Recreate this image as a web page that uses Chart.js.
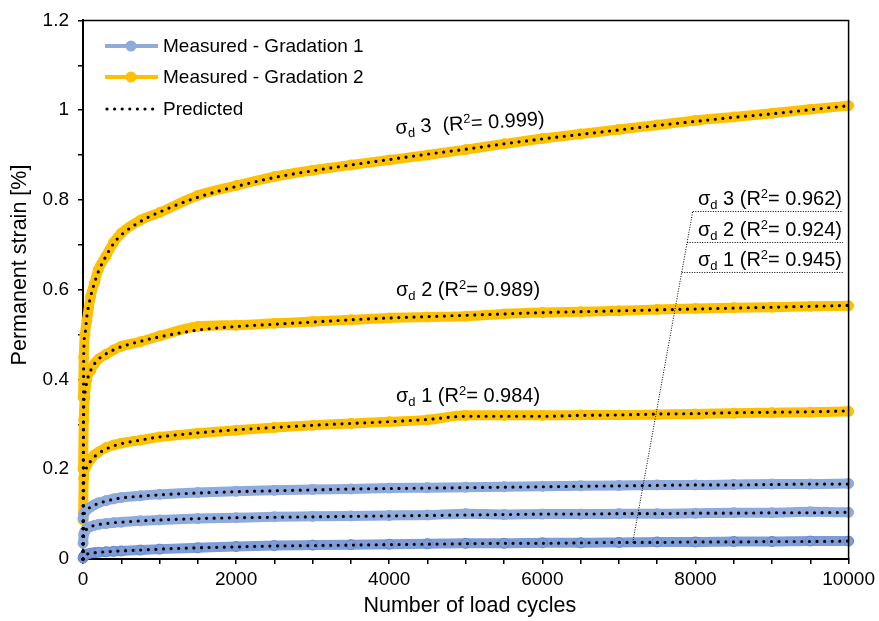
<!DOCTYPE html>
<html>
<head>
<meta charset="utf-8">
<title>Permanent strain</title>
<script src="https://cdn.jsdelivr.net/npm/chart.js@4"></script>
<style>
  html, body { margin: 0; padding: 0; background: #fff; }
  #wrap { width: 879px; height: 621px; }
</style>
</head>
<body>
<div id="wrap"><canvas id="strainChart" width="879" height="621"></canvas></div>
<script>
// Load cycles at which strain was recorded / predicted
const cyclesMeasured = [1, 10, 25, 50, 100, 150, 200, 300, 400, 500, 750, 1000, 1500, 2000, 2500, 3000, 3500, 4000, 4500, 5000, 5500, 6000, 6500, 7000, 7500, 8000, 8500, 9000, 9500, 10000];
const cyclesPredicted = [0, 10, 25, 50, 100, 150, 200, 300, 400, 500, 750, 1000, 1500, 2000, 2500, 3000, 3500, 4000, 4500, 5000, 5500, 6000, 6500, 7000, 7500, 8000, 8500, 9000, 9500, 10000];

// Gradation 2 (measured)
const g2Sd3 = [0.36, 0.45, 0.5, 0.53, 0.585, 0.615, 0.645, 0.675, 0.705, 0.726, 0.755, 0.772, 0.81, 0.832, 0.852, 0.866, 0.878, 0.889, 0.9, 0.912, 0.925, 0.937, 0.947, 0.957, 0.967, 0.977, 0.985, 0.993, 1.002, 1.01];
const g2Sd2 = [0.2, 0.31, 0.36, 0.4, 0.42, 0.435, 0.445, 0.456, 0.466, 0.474, 0.484, 0.497, 0.518, 0.521, 0.525, 0.529, 0.533, 0.537, 0.539, 0.541, 0.546, 0.549, 0.551, 0.553, 0.556, 0.558, 0.56, 0.561, 0.563, 0.564];
const g2Sd1 = [0.087, 0.18, 0.2, 0.21, 0.222, 0.232, 0.238, 0.248, 0.254, 0.258, 0.265, 0.272, 0.28, 0.287, 0.293, 0.298, 0.302, 0.306, 0.31, 0.32, 0.32, 0.32, 0.321, 0.321, 0.322, 0.323, 0.325, 0.326, 0.327, 0.329];

// Gradation 1 (measured)
const g1Sd3 = [0.09, 0.1, 0.105, 0.11, 0.116, 0.121, 0.125, 0.13, 0.134, 0.137, 0.141, 0.144, 0.148, 0.151, 0.153, 0.155, 0.156, 0.158, 0.159, 0.16, 0.161, 0.162, 0.163, 0.164, 0.165, 0.165, 0.166, 0.167, 0.167, 0.168];
const g1Sd2 = [0.035, 0.055, 0.062, 0.068, 0.072, 0.075, 0.077, 0.079, 0.081, 0.082, 0.085, 0.087, 0.09, 0.092, 0.094, 0.095, 0.096, 0.097, 0.098, 0.101, 0.099, 0.1, 0.1, 0.101, 0.101, 0.102, 0.103, 0.103, 0.105, 0.104];
const g1Sd1 = [0.002, 0.006, 0.009, 0.011, 0.013, 0.014, 0.015, 0.016, 0.017, 0.018, 0.02, 0.022, 0.025, 0.028, 0.03, 0.031, 0.032, 0.033, 0.034, 0.035, 0.035, 0.036, 0.036, 0.037, 0.038, 0.038, 0.039, 0.039, 0.04, 0.04];

// Model predictions
const predG2Sd3 = [0, 0.46, 0.5, 0.54, 0.585, 0.615, 0.64, 0.675, 0.703, 0.722, 0.752, 0.773, 0.806, 0.83, 0.85, 0.865, 0.878, 0.89, 0.902, 0.913, 0.925, 0.936, 0.946, 0.956, 0.966, 0.975, 0.984, 0.992, 1.001, 1.01];
const predG2Sd2 = [0, 0.34, 0.37, 0.395, 0.42, 0.435, 0.445, 0.457, 0.466, 0.473, 0.485, 0.495, 0.51, 0.518, 0.523, 0.528, 0.533, 0.537, 0.54, 0.543, 0.546, 0.549, 0.551, 0.553, 0.555, 0.557, 0.559, 0.561, 0.563, 0.565];
const predG2Sd1 = [0, 0.17, 0.19, 0.205, 0.218, 0.228, 0.235, 0.245, 0.252, 0.257, 0.265, 0.272, 0.281, 0.288, 0.293, 0.298, 0.302, 0.306, 0.311, 0.318, 0.318, 0.318, 0.32, 0.321, 0.323, 0.324, 0.326, 0.327, 0.328, 0.33];
const predG1Sd3 = [0, 0.095, 0.103, 0.109, 0.116, 0.12, 0.124, 0.129, 0.133, 0.136, 0.14, 0.143, 0.147, 0.15, 0.152, 0.154, 0.156, 0.157, 0.158, 0.159, 0.16, 0.161, 0.162, 0.163, 0.164, 0.165, 0.165, 0.166, 0.167, 0.167];
const predG1Sd2 = [0, 0.055, 0.062, 0.067, 0.072, 0.075, 0.077, 0.079, 0.081, 0.082, 0.085, 0.087, 0.09, 0.092, 0.093, 0.094, 0.095, 0.096, 0.097, 0.098, 0.099, 0.1, 0.1, 0.101, 0.101, 0.102, 0.102, 0.103, 0.103, 0.104];
const predG1Sd1 = [0, 0.006, 0.009, 0.011, 0.013, 0.014, 0.015, 0.016, 0.017, 0.018, 0.02, 0.022, 0.025, 0.027, 0.029, 0.03, 0.031, 0.032, 0.033, 0.034, 0.035, 0.035, 0.036, 0.037, 0.037, 0.038, 0.038, 0.039, 0.039, 0.04];

// R² labels
const fitLabelsG2 = [
  { level: "3", r2: "0.999", gap: "  " },
  { level: "2", r2: "0.989", gap: " " },
  { level: "1", r2: "0.984", gap: " " }
];
const fitLabelsG1 = [
  { level: "3", r2: "0.962" },
  { level: "2", r2: "0.924" },
  { level: "1", r2: "0.945" }
];

const FONT = '"Liberation Sans", Arial, Helvetica, sans-serif';
const BLUE = "#8FAADC";
const YELLOW = "#FFC000";

function pairs(xs, ys) {
  return xs.map((x, i) => ({ x, y: ys[i] }));
}

function measured(values, color, edge) {
  return {
    data: pairs(cyclesMeasured, values),
    borderColor: color,
    backgroundColor: color,
    borderWidth: 10,
    pointRadius: 5,
    pointBorderWidth: 1,
    pointBorderColor: edge || color,
    pointBackgroundColor: color,
    cubicInterpolationMode: "monotone",
    borderJoinStyle: "round",
    borderCapStyle: "round",
    clip: false,
    order: 2
  };
}

function predicted(values) {
  return {
    data: pairs(cyclesPredicted, values),
    borderColor: "#000",
    borderWidth: 3.2,
    borderDash: [0, 7.6],
    borderCapStyle: "round",
    pointRadius: 0,
    cubicInterpolationMode: "monotone",
    fill: false,
    clip: false,
    order: 1
  };
}

// sigma_d n (R^2= x) with sub/superscripts
function drawFitLabel(ctx, x, y, level, r2, gap, align) {
  const big = "20px " + FONT;
  const small = "13px " + FONT;
  const parts = [
    { t: "σ", f: big, dy: 0 },
    { t: "d", f: small, dy: 6 },
    { t: " " + level + (gap || " ") + "(R", f: big, dy: 0 },
    { t: "2", f: small, dy: -5 },
    { t: "= " + r2 + ")", f: big, dy: 0 }
  ];
  let total = 0;
  parts.forEach(p => { ctx.font = p.f; p.w = ctx.measureText(p.t).width; total += p.w; });
  let cx = align === "right" ? x - total : align === "center" ? x - total / 2 : x;
  ctx.fillStyle = "#000";
  ctx.textBaseline = "middle";
  ctx.textAlign = "left";
  parts.forEach(p => {
    ctx.font = p.f;
    ctx.fillText(p.t, cx, y + p.dy);
    cx += p.w;
  });
}

const decorations = {
  id: "decorations",
  afterDraw(chart) {
    const { ctx, chartArea: a, scales } = chart;
    const xs = scales.x, ys = scales.y;
    ctx.save();

    // plot frame (top and right)
    ctx.strokeStyle = "#000";
    ctx.lineWidth = 1.5;
    ctx.beginPath();
    ctx.moveTo(a.left, a.top);
    ctx.lineTo(a.right, a.top);
    ctx.lineTo(a.right, a.bottom);
    ctx.stroke();

    // axis titles
    ctx.fillStyle = "#000";
    ctx.font = "21.5px " + FONT;
    ctx.textAlign = "center";
    ctx.textBaseline = "middle";
    ctx.fillText("Number of load cycles", (a.left + a.right) / 2 + 4, 606);
    ctx.save();
    ctx.translate(20, 265);
    ctx.rotate(-Math.PI / 2);
    ctx.fillText("Permanent strain [%]", 0, 0);
    ctx.restore();

    // legend
    const rows = [
      { y: 46, color: BLUE, text: "Measured - Gradation 1" },
      { y: 77, color: YELLOW, text: "Measured - Gradation 2" },
      { y: 109, color: null, text: "Predicted" }
    ];
    rows.forEach(r => {
      if (r.color) {
        ctx.strokeStyle = r.color;
        ctx.lineWidth = 4;
        ctx.setLineDash([]);
        ctx.beginPath();
        ctx.moveTo(105, r.y);
        ctx.lineTo(158, r.y);
        ctx.stroke();
        ctx.fillStyle = r.color;
        ctx.beginPath();
        ctx.arc(131, r.y, 5.5, 0, Math.PI * 2);
        ctx.fill();
      } else {
        ctx.strokeStyle = "#000";
        ctx.lineWidth = 3.2;
        ctx.lineCap = "round";
        ctx.setLineDash([0, 7.6]);
        ctx.beginPath();
        ctx.moveTo(107, r.y);
        ctx.lineTo(159, r.y);
        ctx.stroke();
        ctx.setLineDash([]);
        ctx.lineCap = "butt";
      }
      ctx.fillStyle = "#000";
      ctx.font = "19px " + FONT;
      ctx.textAlign = "left";
      ctx.textBaseline = "middle";
      ctx.fillText(r.text, 163, r.y + 1);
    });

    // Gradation 2 fit labels above each curve
    ctx.save();
    ctx.translate(470, 124);
    ctx.rotate(-3.5 * Math.PI / 180);
    drawFitLabel(ctx, 0, 0, fitLabelsG2[0].level, fitLabelsG2[0].r2, fitLabelsG2[0].gap, "center");
    ctx.restore();
    drawFitLabel(ctx, 396, 290, fitLabelsG2[1].level, fitLabelsG2[1].r2, fitLabelsG2[1].gap, "left");
    drawFitLabel(ctx, 396, 396, fitLabelsG2[2].level, fitLabelsG2[2].r2, fitLabelsG2[2].gap, "left");

    // Gradation 1 fit labels with leader line
    const top = { x: xs.getPixelForValue(7963), y: ys.getPixelForValue(0.773) };
    const bot = { x: xs.getPixelForValue(7180), y: ys.getPixelForValue(0.036) };
    const along = yy => top.x + (bot.x - top.x) * (yy - top.y) / (bot.y - top.y);
    ctx.strokeStyle = "#000";
    ctx.lineWidth = 1;
    ctx.setLineDash([1, 1.5]);
    ctx.beginPath();
    ctx.moveTo(top.x, top.y);
    ctx.lineTo(bot.x, bot.y);
    [211, 242, 272].forEach(yy => {
      ctx.moveTo(along(yy), yy + 0.5);
      ctx.lineTo(843, yy + 0.5);
    });
    ctx.stroke();
    ctx.setLineDash([]);
    [199, 230, 260].forEach((yy, i) => {
      drawFitLabel(ctx, 842, yy, fitLabelsG1[i].level, fitLabelsG1[i].r2, " ", "right");
    });

    ctx.restore();
  }
};

new Chart(document.getElementById("strainChart"), {
  type: "line",
  data: {
    datasets: [
      measured(g1Sd1, "#7E9DD8", "#6487CC"),
      measured(g1Sd2, BLUE),
      measured(g1Sd3, BLUE),
      measured(g2Sd1, YELLOW),
      measured(g2Sd2, YELLOW),
      measured(g2Sd3, YELLOW),
      predicted(predG1Sd1),
      predicted(predG1Sd2),
      predicted(predG1Sd3),
      predicted(predG2Sd1),
      predicted(predG2Sd2),
      predicted(predG2Sd3)
    ]
  },
  options: {
    responsive: false,
    animation: false,
    layout: { padding: { top: 19, right: 30, left: 0, bottom: 0 } },
    plugins: {
      legend: { display: false },
      tooltip: { enabled: false }
    },
    scales: {
      x: {
        type: "linear",
        min: 0,
        max: 10000,
        afterFit(scale) { scale.height = 62; },
        grid: { drawOnChartArea: false, color: "#000", lineWidth: 1.5, tickLength: 5 },
        border: { color: "#000", width: 2 },
        ticks: {
          stepSize: 500,
          autoSkip: false,
          maxRotation: 0,
          padding: 4,
          color: "#000",
          font: { family: FONT, size: 19 },
          callback: v => (v % 2000 === 0 ? String(v) : "")
        }
      },
      y: {
        min: 0,
        max: 1.2,
        afterFit(scale) { scale.width = 83; },
        grid: { drawOnChartArea: false, color: "#000", lineWidth: 1.5, tickLength: 5 },
        border: { color: "#000", width: 2 },
        ticks: {
          stepSize: 0.1,
          autoSkip: false,
          padding: 9,
          color: "#000",
          font: { family: FONT, size: 19 },
          callback: v => {
            const tenth = Math.round(v * 10);
            return tenth % 2 ? "" : String(tenth / 10);
          }
        }
      }
    }
  },
  plugins: [decorations]
});
</script>
</body>
</html>
